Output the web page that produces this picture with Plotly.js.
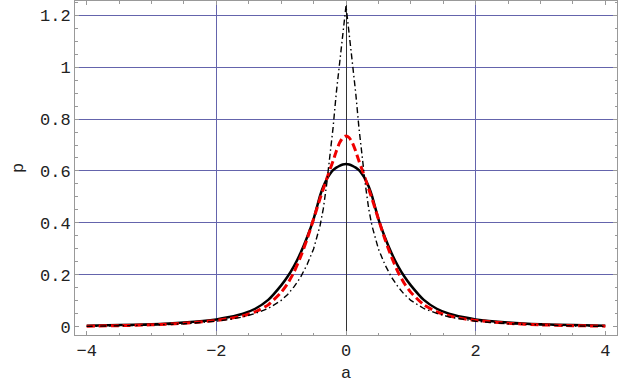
<!DOCTYPE html>
<html>
<head>
<meta charset="utf-8">
<script src="https://cdn.plot.ly/plotly-3.0.1.min.js"></script>
<style>html,body{margin:0;padding:0;background:#fff;}#chart{width:623px;height:385px;}</style>
</head>
<body>
<div id="chart"></div>
<script>
// sample positions (a) for the solid and red curves
var xCommon = [-4,-3.5,-3,-2.5,-2,-1.8,-1.6,-1.4,-1.2,-1,-0.9,-0.8,-0.7,-0.6,-0.5,-0.45,-0.4,-0.35,-0.3,-0.25,-0.2,-0.15,-0.1,-0.05,0,
               0.05,0.1,0.15,0.2,0.25,0.3,0.35,0.4,0.45,0.5,0.6,0.7,0.8,0.9,1,1.2,1.4,1.6,1.8,2,2.5,3,3.5,4];
// solid black curve
var pSolid = [0.005,0.007,0.010,0.017,0.029,0.038,0.050,0.070,0.104,0.160,0.194,0.235,0.285,0.345,0.415,0.460,0.505,0.540,0.567,0.587,0.603,0.613,0.620,0.625,0.627,
              0.625,0.620,0.613,0.603,0.587,0.567,0.540,0.505,0.460,0.415,0.345,0.285,0.235,0.194,0.160,0.104,0.070,0.050,0.038,0.029,0.017,0.010,0.007,0.005];
// red dashed curve
var pRed = [0.003,0.005,0.008,0.014,0.025,0.032,0.042,0.058,0.085,0.133,0.167,0.212,0.270,0.338,0.415,0.455,0.494,0.531,0.568,0.604,0.638,0.676,0.708,0.728,0.735,
            0.728,0.708,0.676,0.638,0.604,0.568,0.531,0.494,0.455,0.415,0.338,0.270,0.212,0.167,0.133,0.085,0.058,0.042,0.032,0.025,0.014,0.008,0.005,0.003];
// black dash-dot curve (sharp peak)
var xDashDot = [-4,-3.5,-3,-2.5,-2,-1.8,-1.6,-1.4,-1.2,-1,-0.9,-0.8,-0.7,-0.6,-0.5,-0.4,-0.35,-0.3,-0.25,-0.2,-0.15,-0.1,-0.05,0,
                0.05,0.1,0.15,0.2,0.25,0.3,0.35,0.4,0.5,0.6,0.7,0.8,0.9,1,1.2,1.4,1.6,1.8,2,2.5,3,3.5,4];
var pDashDot = [0.002,0.004,0.007,0.012,0.022,0.029,0.038,0.052,0.071,0.102,0.125,0.155,0.192,0.240,0.300,0.390,0.455,0.545,0.645,0.765,0.900,1.020,1.125,1.235,
                1.125,1.020,0.900,0.765,0.645,0.545,0.455,0.390,0.300,0.240,0.192,0.155,0.125,0.102,0.071,0.052,0.038,0.029,0.022,0.012,0.007,0.004,0.002];
// grid lines
var xGrid = [-2, 2];
var yGrid = [0.2, 0.4, 0.6, 0.8, 1.0, 1.2];
var xRange = [-4.18, 4.18];
var yRange = [-0.031, 1.254];

var tickFont = {family: 'Liberation Mono, Courier New, monospace', size: 17, color: '#222'};
var frameColor = '#999';
var gridColor = '#6464ac';

var traces = [
  {x: xCommon, y: pSolid, mode: 'lines', line: {color: '#000', width: 2.5, shape: 'spline', smoothing: 0.5}, hoverinfo: 'skip'},
  {x: xCommon, y: pRed, mode: 'lines', line: {color: '#f00000', width: 3, dash: '8px,4px', shape: 'spline', smoothing: 0.5}, hoverinfo: 'skip'},
  {x: xDashDot, y: pDashDot, mode: 'lines', line: {color: '#000', width: 1.4, dash: '6px,3px,1.5px,3px'}, hoverinfo: 'skip'},
  {x: [], y: [], xaxis: 'x2', yaxis: 'y2', mode: 'lines', hoverinfo: 'skip'}
];

var layout = {
  width: 623, height: 385,
  margin: {l: 75, r: 6, t: 1, b: 50},
  paper_bgcolor: '#fff', plot_bgcolor: '#fff',
  showlegend: false, hovermode: false,
  xaxis: {
    range: xRange, tick0: 0, dtick: 2, showgrid: false,
    zeroline: true, zerolinecolor: '#333', zerolinewidth: 1,
    showline: true, linecolor: frameColor, linewidth: 1, mirror: 'allticks',
    ticks: 'inside', ticklen: 4, tickcolor: frameColor, tickwidth: 1,
    minor: {dtick: 0.5, ticks: 'inside', ticklen: 2.5, tickcolor: frameColor, showgrid: false},
    tickfont: tickFont,
    title: {text: 'a', font: tickFont, standoff: 5}
  },
  yaxis: {
    range: yRange, tick0: 0, dtick: 0.2, showgrid: false, zeroline: false,
    showline: true, linecolor: frameColor, linewidth: 1, mirror: 'allticks',
    ticks: 'inside', ticklen: 4, tickcolor: frameColor, tickwidth: 1,
    minor: {dtick: 0.05, ticks: 'inside', ticklen: 2.5, tickcolor: frameColor, showgrid: false},
    tickfont: tickFont,
    title: {text: 'p', font: tickFont, standoff: 12}
  },
  xaxis2: {
    overlaying: 'x', anchor: 'y2', range: xRange, tickvals: xGrid,
    showgrid: true, gridcolor: gridColor, gridwidth: 1,
    showticklabels: false, ticks: '', showline: false, zeroline: false
  },
  yaxis2: {
    overlaying: 'y', anchor: 'x2', range: yRange, tickvals: yGrid,
    showgrid: true, gridcolor: gridColor, gridwidth: 1,
    showticklabels: false, ticks: '', showline: false, zeroline: false
  }
};

Plotly.newPlot('chart', traces, layout, {staticPlot: true, displayModeBar: false});
</script>
</body>
</html>
